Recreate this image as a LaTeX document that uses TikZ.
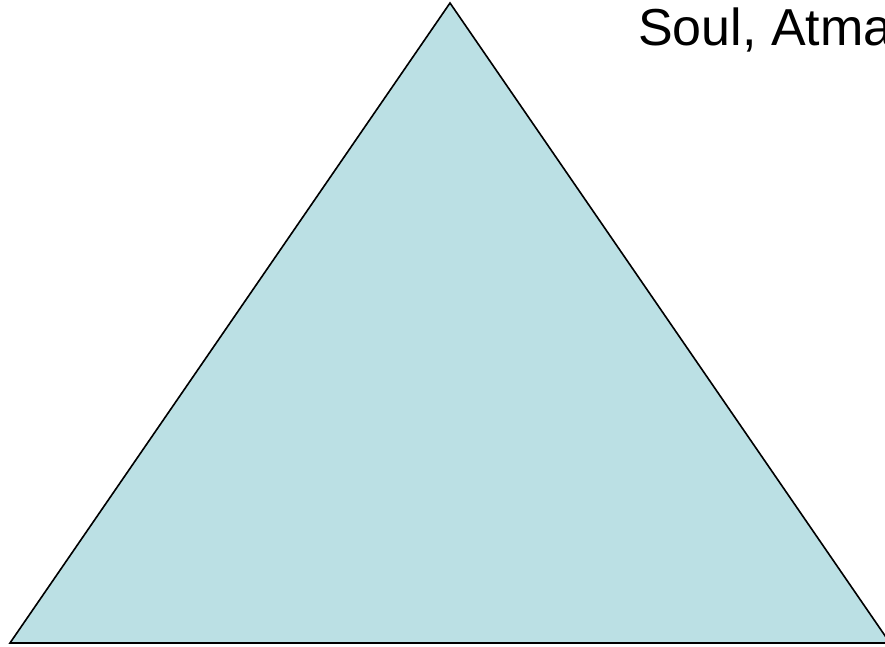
\documentclass[tikz,border=0pt]{standalone}
\usepackage{fontspec}
\setmainfont{Liberation Sans}
\definecolor{trifill}{RGB}{187,224,228}
\begin{document}
\begin{tikzpicture}[x=1pt,y=1pt,
  tri/.style={fill=trifill,draw=black,line width=1.6pt,line join=miter},
  lbl/.style={font=\fontsize{52}{62}\selectfont,inner sep=0pt,anchor=base west}]
\useasboundingbox (0,0) rectangle (885,647);
\clip (0,0) rectangle (885,647);
\coordinate (apex) at (450,644);
\coordinate (bl) at (10,4);
\coordinate (br) at (890,4);
\draw[tri] (apex) -- (bl) -- (br) -- cycle;
\node[lbl] (soul) at (638,601) {Soul, Atma};
\end{tikzpicture}
\end{document}
